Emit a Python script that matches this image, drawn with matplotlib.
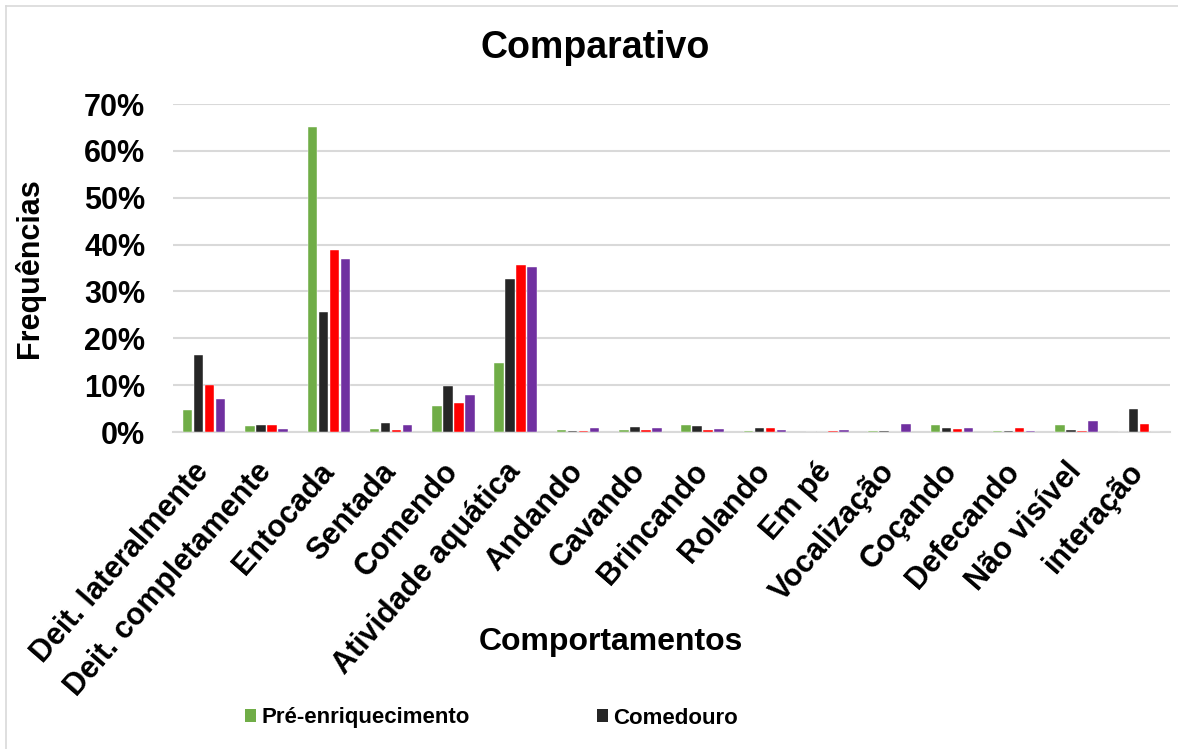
import numpy as np
import matplotlib
matplotlib.use('Agg')
from matplotlib import pyplot as plt
from matplotlib import transforms
from matplotlib.lines import Line2D
from matplotlib.patches import Patch

plt.rcParams['font.family'] = ['Liberation Sans', 'DejaVu Sans']
plt.rcParams['font.weight'] = 'bold'

# Data (fractions)
categories = ['Deit. lateralmente', 'Deit. completamente', 'Entocada', 'Sentada',
              'Comendo', 'Atividade aquática', 'Andando', 'Cavando', 'Brincando',
              'Rolando', 'Em pé', 'Vocalização', 'Coçando', 'Defecando',
              'Não visível', 'interação']
pre_enriquecimento = [0.048, 0.012, 0.650, 0.007, 0.056, 0.147, 0.004, 0.004,
                      0.016, 0.003, 0.000, 0.003, 0.015, 0.003, 0.015, 0.000]
comedouro = [0.165, 0.014, 0.257, 0.020, 0.099, 0.326, 0.003, 0.010,
             0.013, 0.009, 0.000, 0.003, 0.009, 0.003, 0.004, 0.050]
serie_3 = [0.100, 0.016, 0.389, 0.004, 0.061, 0.356, 0.003, 0.004,
           0.004, 0.009, 0.003, 0.000, 0.006, 0.008, 0.003, 0.017]
serie_4 = [0.071, 0.006, 0.370, 0.015, 0.080, 0.353, 0.008, 0.008,
           0.007, 0.004, 0.004, 0.017, 0.009, 0.003, 0.024, 0.000]

series = [pre_enriquecimento, comedouro, serie_3, serie_4]
colors = ['#70AD47', '#262626', '#FF0000', '#7030A0']

fig = plt.figure(figsize=(11.78, 7.49), dpi=100)
ax = fig.add_axes([173 / 1178, 1 - 432 / 749, 997 / 1178, 328 / 749])

x = np.arange(len(categories))
pitch = 0.1766
for k, (vals, c) in enumerate(zip(series, colors)):
    ax.bar(x + (k - 1.5) * pitch, vals, width=0.152, color=c,
           edgecolor='white', linewidth=0.3, zorder=3)

ax.set_xlim(-0.5, len(categories) - 0.5)
ax.set_ylim(0, 0.7)
ax.set_yticks(np.arange(0, 0.71, 0.1))
ax.set_yticklabels(['{:.0f}%'.format(v * 100) for v in np.arange(0, 0.71, 0.1)],
                   fontsize=22, fontweight='bold')
ax.set_xticks(x)
ax.set_xticklabels(categories, rotation=49, ha='right', va='center',
                   rotation_mode='anchor', fontsize=22, fontweight='bold')
shift = transforms.ScaledTranslation(-4 / 100, 0, fig.dpi_scale_trans)
for lbl in ax.get_xticklabels():
    lbl.set_transform(lbl.get_transform() + shift)
ax.tick_params(axis='both', length=0)
ax.tick_params(axis='y', pad=20)
ax.tick_params(axis='x', pad=25)
ax.grid(axis='y', color='#D9D9D9', linewidth=1.5, zorder=0)
ax.set_axisbelow(True)
for s in ['top', 'right', 'left']:
    ax.spines[s].set_visible(False)
ax.spines['bottom'].set_color('#D9D9D9')
ax.spines['bottom'].set_linewidth(1.5)

ax.set_ylabel('Frequências', fontsize=22, fontweight='bold', labelpad=28)
fig.text(611 / 1178, 1 - 642 / 749, 'Comportamentos', ha='center', va='center',
         fontsize=23, fontweight='bold')
fig.text(595 / 1178, 1 - 48 / 749, 'Comparativo', ha='center', va='center',
         fontsize=27, fontweight='bold')

# Legend (only the first row is visible in the original)
handles = [Patch(facecolor=colors[0]), Patch(facecolor=colors[1])]
fig.legend(handles, ['Pré-enriquecimento', 'Comedouro'], ncol=2,
           loc='center left', bbox_to_anchor=(225 / 1178, 1 - 718 / 749),
           frameon=False, handlelength=0.5, handleheight=0.5,
           handletextpad=0.25, columnspacing=5.7,
           prop={'weight': 'bold', 'size': 16})

# chart border (left and top)
fig.add_artist(Line2D([5.5 / 1178, 5.5 / 1178], [0, 1 - 6 / 749],
                      transform=fig.transFigure, color='#D9D9D9', linewidth=1.2))
fig.add_artist(Line2D([5.5 / 1178, 1], [1 - 6 / 749, 1 - 6 / 749],
                      transform=fig.transFigure, color='#D9D9D9', linewidth=1.2))

fig.savefig('out.png', dpi=100)
